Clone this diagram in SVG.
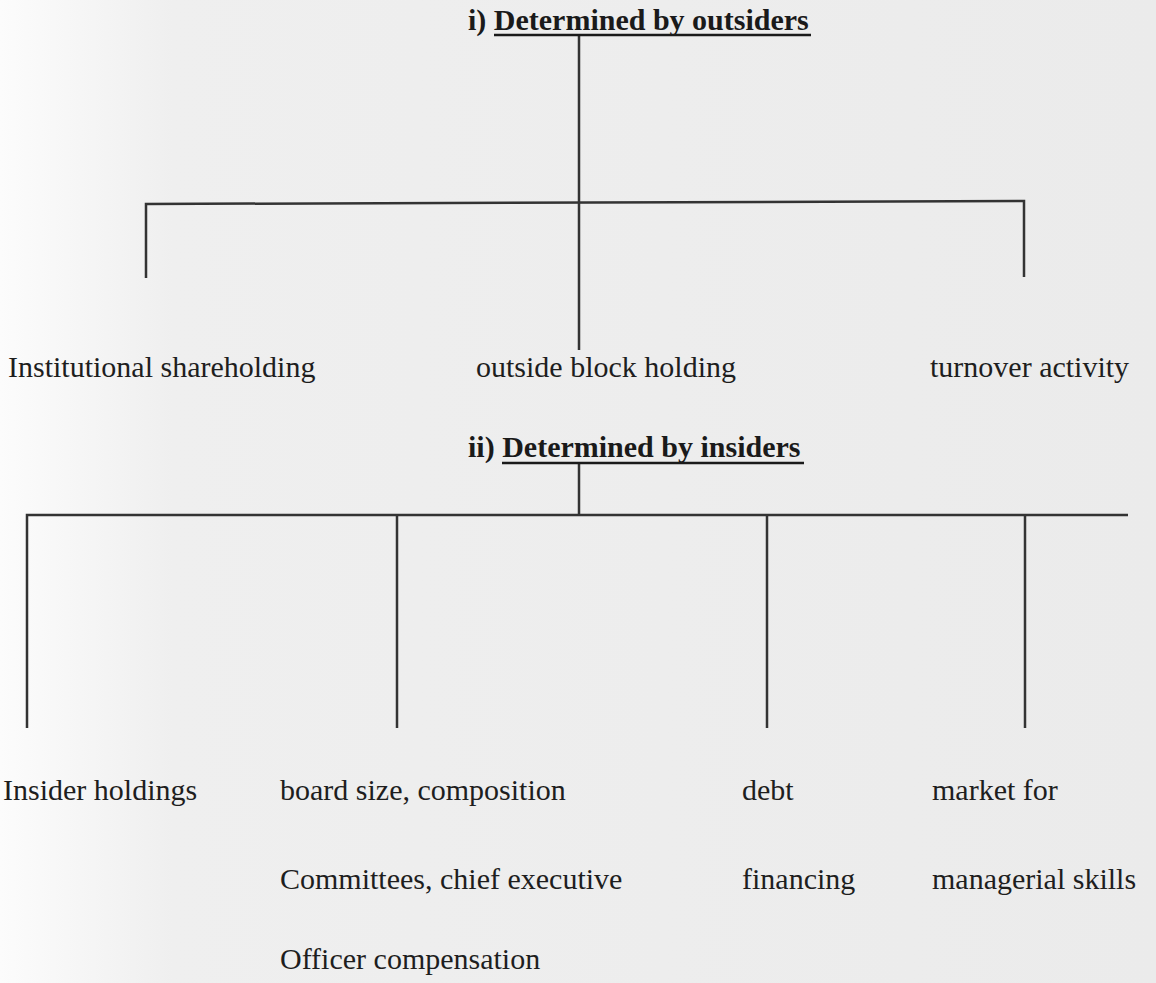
<svg xmlns="http://www.w3.org/2000/svg" width="1156" height="983" viewBox="0 0 1156 983">
<defs>
<linearGradient id="bg" x1="0" y1="0" x2="1" y2="0">
<stop offset="0" stop-color="#fcfcfc"/>
<stop offset="0.15" stop-color="#efefef"/>
<stop offset="1" stop-color="#ebebeb"/>
</linearGradient>
<style>
.t{font-family:"Liberation Serif","Times New Roman",serif;font-size:30px;fill:#1e1e1e}
.h{font-family:"Liberation Serif","Times New Roman",serif;font-size:30px;font-weight:bold;fill:#1a1a1a}
.ln{stroke:#333333;stroke-width:2.5;fill:none}
.ul{stroke:#1a1a1a;stroke-width:2.5}
</style>
</defs>
<rect width="1156" height="983" fill="url(#bg)"/>
<g id="connectors">
<path class="ln" d="M579 35 V350"/>
<path class="ln" d="M146 278 V204 L1024 201 V277"/>
<path class="ln" d="M579 463 V515"/>
<path class="ln" d="M27 728 V515 H1128"/>
<path class="ln" d="M397 515 V728"/>
<path class="ln" d="M767 515 V728"/>
<path class="ln" d="M1025 515 V728"/>
</g>
<g id="outsiders">
<text class="h" x="468" y="30">i) Determined by outsiders</text>
<line class="ul" x1="494" y1="35" x2="811" y2="35"/>
</g>
<g id="institutional"><text class="t" x="8" y="377">Institutional shareholding</text></g>
<g id="outside-block"><text class="t" x="476" y="377">outside block holding</text></g>
<g id="turnover"><text class="t" x="930" y="377">turnover activity</text></g>
<g id="insiders">
<text class="h" x="468" y="457">ii) Determined by insiders</text>
<line class="ul" x1="502" y1="463" x2="804" y2="463"/>
</g>
<g id="insider-holdings"><text class="t" x="3" y="800">Insider holdings</text></g>
<g id="board">
<text class="t" x="280" y="800">board size, composition</text>
<text class="t" x="280" y="889">Committees, chief executive</text>
<text class="t" x="280" y="969">Officer compensation</text>
</g>
<g id="debt">
<text class="t" x="742" y="800">debt</text>
<text class="t" x="742" y="889">financing</text>
</g>
<g id="market">
<text class="t" x="932" y="800">market for</text>
<text class="t" x="932" y="889">managerial skills</text>
</g>
</svg>
